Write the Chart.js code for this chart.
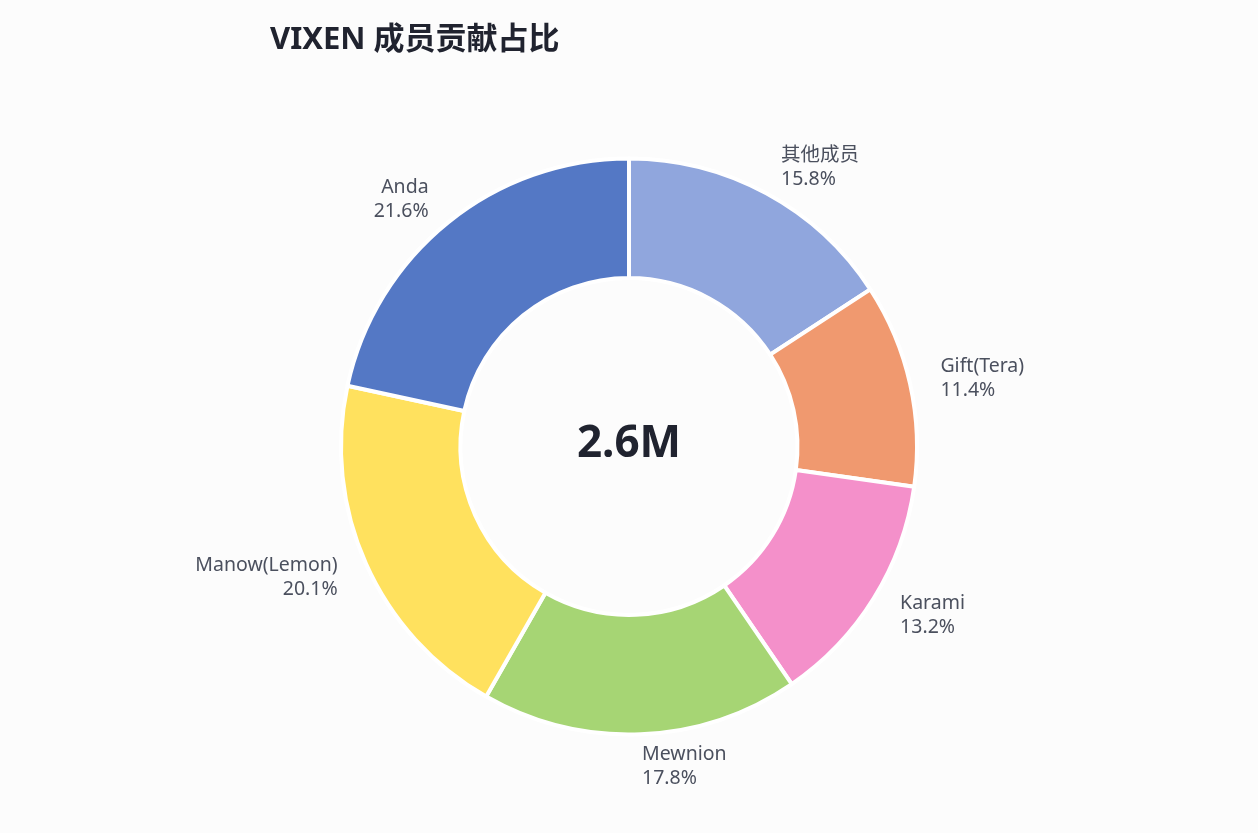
<!DOCTYPE html>
<html>
<head>
<meta charset="utf-8">
<script src="https://cdn.jsdelivr.net/npm/chart.js@4.4.1/dist/chart.umd.min.js"></script>
<style>
  html, body { margin: 0; padding: 0; background: #fcfcfc; }
  #wrap { width: 1258px; height: 833px; }
</style>
</head>
<body>
<div id="wrap"><canvas id="myChart" width="1258" height="833"></canvas></div>
<script>
const members = ["其他成员", "Gift(Tera)", "Karami", "Mewnion", "Manow(Lemon)", "Anda"];
const shares = [15.8, 11.4, 13.2, 17.8, 20.1, 21.6];
const colors = ["#90a6dd", "#f0996f", "#f490ca", "#a6d574", "#ffe15e", "#5478c5"];
const totalLabel = "2.6M";
const titleText = "VIXEN 成员贡献占比";

const FONT = '"Noto Sans", "Noto Sans CJK SC", sans-serif';

const labelPlugin = {
  id: "outerLabels",
  afterDatasetsDraw(chart) {
    const c = chart.ctx;
    const meta = chart.getDatasetMeta(0);
    c.save();
    c.fillStyle = "#4b505e";
    c.font = "19.5px " + FONT;
    c.textBaseline = "middle";
    meta.data.forEach((arc, i) => {
      const p = arc.getProps(["x", "y", "startAngle", "endAngle", "outerRadius"], true);
      const mid = (p.startAngle + p.endAngle) / 2;
      const r = p.outerRadius + 31;
      const x = p.x + Math.cos(mid) * r;
      const y = p.y + Math.sin(mid) * r;
      c.textAlign = Math.cos(mid) >= 0 ? "left" : "right";
      c.fillText(members[i], x, y - 11);
      c.fillText(shares[i].toFixed(1) + "%", x, y + 13);
    });

    // centre total
    const a = meta.data[0];
    c.fillStyle = "#20232f";
    c.textAlign = "center";
    c.font = "bold 44px " + FONT;
    c.fillText(totalLabel, a.x, a.y - 2);

    // title
    c.textAlign = "left";
    c.font = "bold 31px " + FONT;
    c.fillText(titleText, 270, 40);
    c.restore();
  },
};

const ctx = document.getElementById("myChart").getContext("2d");
const myChart = new Chart(ctx, {
  type: "doughnut",
  data: {
    labels: members,
    datasets: [
      {
        data: shares,
        backgroundColor: colors,
        borderColor: "#ffffff",
        borderWidth: 4,
        hoverOffset: 0,
      },
    ],
  },
  options: {
    responsive: false,
    animation: false,
    radius: 288,
    cutout: "58.5%",
    layout: { padding: { top: 80, bottom: 20, left: 0, right: 0 } },
    plugins: {
      legend: { display: false },
      tooltip: { enabled: false },
    },
  },
  plugins: [labelPlugin],
});
</script>
</body>
</html>
